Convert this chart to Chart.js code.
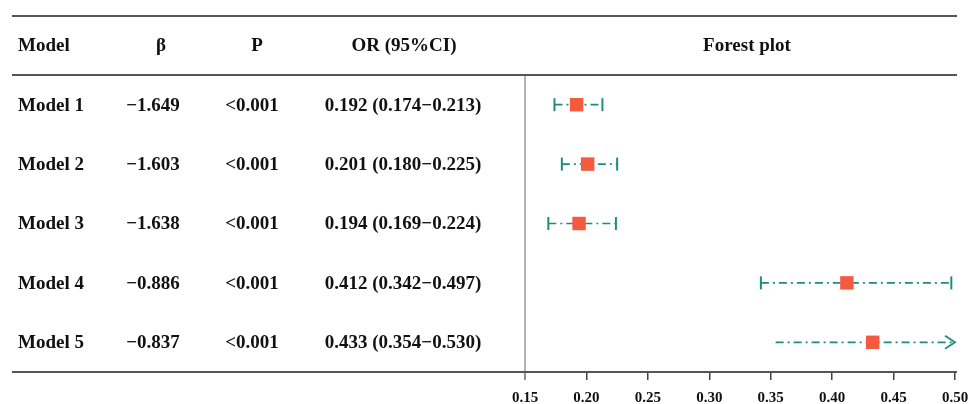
<!DOCTYPE html>
<html>
<head>
<meta charset="utf-8">
<script src="https://cdn.jsdelivr.net/npm/chart.js@4.4.0/dist/chart.umd.min.js"></script>
<style>
  html, body { margin: 0; padding: 0; background: #fff; }
  #wrap { width: 969px; height: 404px; position: relative; }
</style>
</head>
<body>
<div id="wrap"><canvas id="forest"></canvas></div>
<script>
// Table data
const models = ['Model 1', 'Model 2', 'Model 3', 'Model 4', 'Model 5'];
const betas = [-1.649, -1.603, -1.638, -0.886, -0.837];
const pValues = ['<0.001', '<0.001', '<0.001', '<0.001', '<0.001'];
const orValues = [0.192, 0.201, 0.194, 0.412, 0.433];
const ciLower = [0.174, 0.180, 0.169, 0.342, 0.354];
const ciUpper = [0.213, 0.225, 0.224, 0.497, 0.530];

// Axis range
const X_MIN = 0.15;
const X_MAX = 0.50;
const X_STEP = 0.05;

const TEAL = '#1f8c7f';
const RED = '#f35a3f';
const FONT = '"Liberation Serif", "Times New Roman", serif';

const fmt3 = v => (v < 0 ? '\u2212' : '') + Math.abs(v).toFixed(3);

// CI lines, one dataset per model
const ciDatasets = models.map((m, i) => ({
  type: 'line',
  data: [
    { x: ciLower[i], y: i + 1 },
    { x: Math.min(ciUpper[i], X_MAX), y: i + 1 }
  ],
  borderColor: TEAL,
  borderWidth: 1.7,
  borderDash: [8, 4, 2, 4],
  pointRadius: 0,
  order: 3
}));

// end caps only for intervals that fit the axis
const capPoints = [];
models.forEach((m, i) => {
  if (ciUpper[i] <= X_MAX) {
    capPoints.push({ x: ciLower[i], y: i + 1 });
    capPoints.push({ x: ciUpper[i], y: i + 1 });
  }
});

// Draw the table text, rules, y line and arrows
const tablePlugin = {
  id: 'tablePlugin',
  afterDatasetsDraw(chart) {
    const { ctx, scales } = chart;
    const x = scales.x, y = scales.y;
    ctx.save();
    // arrows for clipped intervals
    ctx.strokeStyle = TEAL;
    ctx.lineWidth = 1.8;
    models.forEach((m, i) => {
      if (ciUpper[i] > X_MAX) {
        const px = x.getPixelForValue(X_MAX);
        const py = y.getPixelForValue(i + 1);
        ctx.beginPath();
        ctx.moveTo(px - 10, py - 6.5);
        ctx.lineTo(px, py);
        ctx.lineTo(px - 10, py + 6.5);
        ctx.stroke();
      }
    });
    ctx.restore();
  },
  afterDraw(chart) {
    const { ctx, chartArea, scales } = chart;
    const y = scales.y;
    ctx.save();

    // vertical reference line at the left of the plot
    ctx.strokeStyle = '#9a9a9a';
    ctx.lineWidth = 1.5;
    ctx.beginPath();
    ctx.moveTo(chartArea.left, chartArea.top);
    ctx.lineTo(chartArea.left, chartArea.bottom + 8);
    ctx.stroke();

    // horizontal table rules
    ctx.strokeStyle = '#555';
    ctx.lineWidth = 2;
    [-0.5, 0.5, models.length + 0.5].forEach(v => {
      const py = Math.round(y.getPixelForValue(v));
      ctx.beginPath();
      ctx.moveTo(12, py);
      ctx.lineTo(957, py);
      ctx.stroke();
    });

    // text
    ctx.fillStyle = '#111';
    ctx.font = 'bold 19px ' + FONT;
    ctx.textBaseline = 'middle';
    const hy = y.getPixelForValue(0) + 1;
    ctx.textAlign = 'left';
    ctx.fillText('Model', 18, hy);
    ctx.textAlign = 'center';
    ctx.fillText('\u03b2', 161, hy);
    ctx.fillText('P', 257, hy);
    ctx.fillText('OR (95%CI)', 404, hy);
    ctx.fillText('Forest plot', 747, hy);

    models.forEach((m, i) => {
      const py = y.getPixelForValue(i + 1) + 1;
      ctx.textAlign = 'left';
      ctx.fillText(m, 18, py);
      ctx.textAlign = 'center';
      ctx.fillText(fmt3(betas[i]), 153, py);
      ctx.fillText(pValues[i], 252, py);
      ctx.fillText(orValues[i].toFixed(3) + ' (' + ciLower[i].toFixed(3) + '\u2212' + ciUpper[i].toFixed(3) + ')', 403, py);
    });
    ctx.restore();
  }
};

new Chart(document.getElementById('forest'), {
  type: 'scatter',
  data: {
    datasets: [
      ...ciDatasets,
      {
        data: capPoints,
        pointStyle: 'line',
        rotation: 90,
        pointRadius: 6.5,
        borderColor: TEAL,
        borderWidth: 2,
        order: 2
      },
      {
        data: orValues.map((v, i) => ({ x: v, y: i + 1 })),
        pointStyle: 'rect',
        pointRadius: 9.5,
        backgroundColor: RED,
        borderWidth: 0,
        order: 1
      }
    ]
  },
  options: {
    responsive: true,
    maintainAspectRatio: false,
    animation: false,
    layout: { padding: { left: 525, right: 14, top: 75, bottom: 0 } },
    plugins: { legend: { display: false }, tooltip: { enabled: false } },
    scales: {
      x: {
        type: 'linear',
        min: X_MIN,
        max: X_MAX,
        afterFit: axis => {
          axis.height = 32;
          axis.paddingRight = 0;
          axis.paddingLeft = 0;
        },
        border: { display: true, color: '#555', width: 2 },
        grid: { drawOnChartArea: false, tickLength: 8, color: '#444', lineWidth: 1.5 },
        ticks: {
          stepSize: X_STEP,
          padding: 9,
          maxRotation: 0,
          color: '#111',
          font: { family: FONT, size: 15, weight: 'bold' },
          callback: v => v.toFixed(2)
        }
      },
      y: {
        type: 'linear',
        min: 0.5,
        max: models.length + 0.5,
        reverse: true,
        display: false
      }
    }
  },
  plugins: [tablePlugin]
});
</script>
</body>
</html>
